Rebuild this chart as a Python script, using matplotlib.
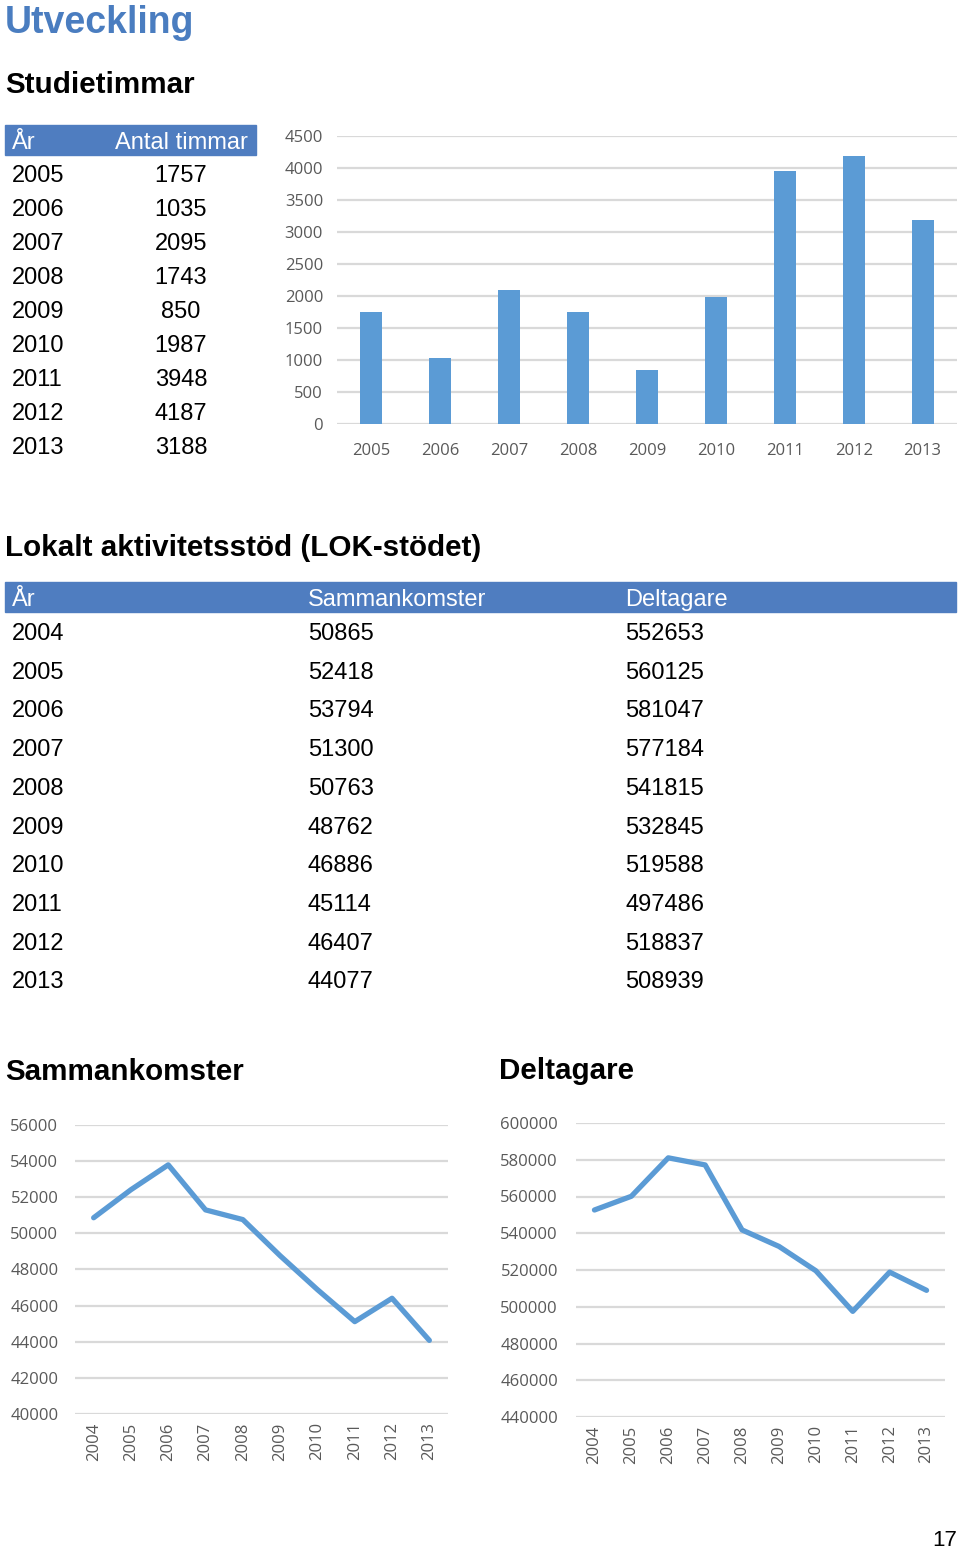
import matplotlib.pyplot as plt
from matplotlib.patches import Rectangle

# studietimmar
st_years = ["2005", "2006", "2007", "2008", "2009", "2010", "2011", "2012", "2013"]
st_hours = [1757, 1035, 2095, 1743, 850, 1987, 3948, 4187, 3188]

# LOK-stödet
lok_years = ["2004", "2005", "2006", "2007", "2008", "2009", "2010", "2011", "2012", "2013"]
lok_meetings = [50865, 52418, 53794, 51300, 50763, 48762, 46886, 45114, 46407, 44077]
lok_participants = [552653, 560125, 581047, 577184, 541815, 532845, 519588, 497486, 518837, 508939]

W, H = 960, 1548
BLUE = "#5b9bd5"
HEAD = "#4f7dc0"
GRAY = "#595959"
GRID = "#d9d9d9"
TFONT = ["Liberation Sans", "DejaVu Sans"]

fig = plt.figure(figsize=(W / 100, H / 100), dpi=100)


def fx(px):
    return px / W


def fy(py):
    return 1 - py / H


def txt(x, y, s, **kw):
    kw.setdefault("family", TFONT)
    kw.setdefault("va", "center")
    fig.text(fx(x), fy(y), s, **kw)


def box(x0, y0, x1, y1, color):
    fig.patches.append(Rectangle((fx(x0), fy(y1)), fx(x1) - fx(x0), fy(y0) - fy(y1),
                                 transform=fig.transFigure, color=color, zorder=0))


def axes_px(x0, y0, x1, y1):
    return fig.add_axes([fx(x0), fy(y1), fx(x1) - fx(x0), fy(y0) - fy(y1)])


def style(ax):
    for s in ax.spines.values():
        s.set_visible(False)
    ax.grid(axis="y", color=GRID, lw=1.6)
    ax.set_axisbelow(True)
    ax.tick_params(length=0, colors=GRAY)


# titles
txt(5, 23, "Utveckling", fontsize=27, weight="bold", color="#4a7dc0")
txt(5, 85, "Studietimmar", fontsize=21.3, weight="bold")

# table 1
box(5, 125, 256, 155, HEAD)
txt(12, 143, "År", fontsize=17, color="white")
txt(181, 143, "Antal timmar", fontsize=17, color="white", ha="center")
for i, (y, v) in enumerate(zip(st_years, st_hours)):
    yy = 176 + i * 34
    txt(12, yy, y, fontsize=17)
    txt(181, yy, str(v), fontsize=17, ha="center")

# bar chart
ax = axes_px(337, 136, 957, 424)
style(ax)
ax.bar(range(len(st_years)), st_hours, width=0.32, color=BLUE)
ax.set_xlim(-0.5, len(st_years) - 0.5)
ax.set_ylim(0, 4500)
ax.set_yticks(range(0, 4501, 500))
ax.set_xticks(range(len(st_years)))
ax.set_xticklabels(st_years)
bfont = ["Liberation Sans Narrow", "Open Sans"]
for lab in ax.get_xticklabels() + ax.get_yticklabels():
    lab.set_family(bfont)
    lab.set_fontsize(12)
ax.tick_params(axis="y", pad=10)
ax.tick_params(axis="x", pad=14)

# LOK section
txt(5, 548, "Lokalt aktivitetsstöd (LOK-stödet)", fontsize=21.3, weight="bold")
box(5, 582, 956, 612, HEAD)
txt(12, 600, "År", fontsize=17, color="white")
txt(308, 600, "Sammankomster", fontsize=17, color="white")
txt(625, 600, "Deltagare", fontsize=17, color="white")
for i in range(len(lok_years)):
    yy = 634 + i * 38.7
    txt(12, yy, lok_years[i], fontsize=17)
    txt(308, yy, str(lok_meetings[i]), fontsize=17)
    txt(625, yy, str(lok_participants[i]), fontsize=17)

txt(5, 1072, "Sammankomster", fontsize=21.3, weight="bold")
txt(499, 1071, "Deltagare", fontsize=21.3, weight="bold")


def line_chart(box_px, vals, lo, hi, step, ypad):
    a = axes_px(*box_px)
    style(a)
    a.plot(range(len(lok_years)), vals, color=BLUE, lw=3.8, solid_capstyle="round")
    a.set_xlim(-0.5, len(lok_years) - 0.5)
    a.set_ylim(lo, hi)
    a.set_yticks(range(lo, hi + 1, step))
    a.set_xticks(range(len(lok_years)))
    a.set_xticklabels(lok_years, rotation=90)
    for lab in a.get_xticklabels() + a.get_yticklabels():
        lab.set_family(["Open Sans", "DejaVu Sans"])
        lab.set_fontsize(12)
    a.tick_params(axis="y", pad=ypad)
    a.tick_params(axis="x", pad=6)
    return a


line_chart((75, 1125, 448, 1414), lok_meetings, 40000, 56000, 2000, 12)
line_chart((576, 1123, 945, 1417), lok_participants, 440000, 600000, 20000, 13)

txt(945, 1540, "17", fontsize=16, ha="center")

fig.savefig("out.png", dpi=100)
